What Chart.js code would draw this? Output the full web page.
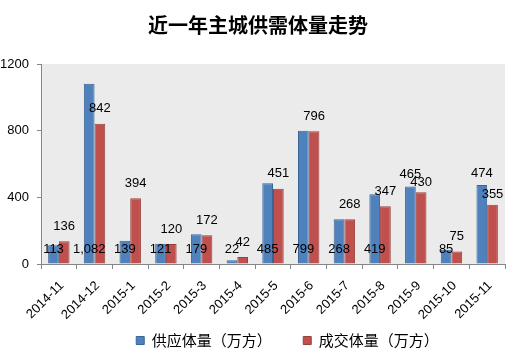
<!DOCTYPE html>
<html>
<head>
<meta charset="utf-8">
<script src="https://cdn.jsdelivr.net/npm/chart.js@4/dist/chart.umd.min.js"></script>
<style>
html,body{margin:0;padding:0;background:#fff;}
#wrap{width:513px;height:358px;position:relative;}
</style>
</head>
<body>
<div id="wrap"><canvas id="c" width="513" height="358"></canvas></div>
<script>
const categories = ['2014-11','2014-12','2015-1','2015-2','2015-3','2015-4','2015-5','2015-6','2015-7','2015-8','2015-9','2015-10','2015-11'];
const supply = [113,1082,139,121,179,22,485,799,268,419,465,85,474];
const sales  = [136,842,394,120,172,42,451,796,268,347,430,75,355];
const yTicks = [0,400,800,1200];
const seriesNames = ['供应体量（万方）','成交体量（万方）'];
const titleText = '近一年主城供需体量走势';
// label placement for supply series: 'base' or 'top'
const supplyLabelPlace = ['base','base','base','base','base','base','base','base','base','base','top','base','top'];

const CJK = '"Noto Sans CJK SC","Noto Sans",sans-serif';
const NUM = '"Liberation Sans",Arial,sans-serif';

const bgPlugin = {
  id:'bg',
  beforeDraw(chart){
    const {ctx, chartArea:a} = chart;
    ctx.save();
    ctx.fillStyle = '#ebebeb';
    ctx.fillRect(a.left, a.top, a.right-a.left, a.bottom-a.top);
    ctx.restore();
  }
};
const titlePlugin = {
  id:'ttl',
  afterDraw(chart){
    const ctx = chart.ctx;
    ctx.save();
    ctx.font = 'bold 20px ' + CJK;
    ctx.fillStyle = '#000';
    ctx.textAlign = 'center';
    ctx.textBaseline = 'middle';
    ctx.fillText(titleText, 258, 25);
    ctx.restore();
  }
};
const legendShift = {
  id:'legShift',
  afterLayout(chart){
    if (chart.legend){ chart.legend.left += 35; chart.legend.right += 35; }
  }
};
const fmt = v => v.toLocaleString('en-US');
const labelPlugin = {
  id:'lbl',
  afterDatasetsDraw(chart){
    const ctx = chart.ctx;
    const y = chart.scales.y;
    ctx.save();
    ctx.font = '13px ' + NUM;
    ctx.fillStyle = '#000';
    ctx.textAlign = 'center';
    ctx.textBaseline = 'middle';
    chart.getDatasetMeta(0).data.forEach((bar,i)=>{
      let yy;
      if (supplyLabelPlace[i]==='top') yy = bar.y - 12;
      else yy = y.getPixelForValue(0) - 15;
      ctx.fillText(fmt(supply[i]), bar.x, yy);
    });
    chart.getDatasetMeta(1).data.forEach((bar,i)=>{
      const off = supplyLabelPlace[i]==='top' ? 10 : 15;
      ctx.fillText(fmt(sales[i]), bar.x, bar.y - off);
    });
    ctx.restore();
  }
};

new Chart(document.getElementById('c'), {
  type:'bar',
  data:{
    labels:categories,
    datasets:[
      {label:seriesNames[0], data:supply, backgroundColor:'#4f81bd', borderColor:'#3a6597', borderWidth:1, categoryPercentage:0.6, barPercentage:1},
      {label:seriesNames[1], data:sales, backgroundColor:'#c0504d', borderColor:'#99403d', borderWidth:1, categoryPercentage:0.6, barPercentage:1}
    ]
  },
  options:{
    responsive:false,
    animation:false,
    layout:{padding:{top:64,right:8,left:0,bottom:0}},
    plugins:{
      legend:{
        position:'bottom',
        labels:{
          boxWidth:8, boxHeight:8, font:{size:15, family:CJK}, color:'#000', padding:9,
          generateLabels(chart){
            const items = Chart.defaults.plugins.legend.labels.generateLabels(chart);
            items[0].text = items[0].text + '\u3000\u3000';
            return items;
          }
        }
      },
      title:{display:false},
      tooltip:{enabled:false}
    },
    scales:{
      x:{
        grid:{display:true, drawOnChartArea:false, drawTicks:true, tickLength:5, color:'#868686', offset:true},
        border:{display:true, color:'#868686'},
        ticks:{maxRotation:45, minRotation:45, font:{size:13, family:NUM}, color:'#000', padding:9, labelOffset:3, autoSkip:false},
        afterFit(s){ s.height = 60; }
      },
      y:{
        min:0, max:1200,
        afterBuildTicks(s){ s.ticks = yTicks.map(v=>({value:v})); },
        grid:{display:true, drawOnChartArea:false, drawTicks:true, tickLength:4, color:'#868686'},
        border:{display:true, color:'#868686'},
        ticks:{font:{size:13, family:NUM}, color:'#000', padding:8, callback:v=>String(v)},
        afterFit(s){ s.width = 41; }
      }
    }
  },
  plugins:[bgPlugin, titlePlugin, labelPlugin, legendShift]
});
</script>
</body>
</html>
